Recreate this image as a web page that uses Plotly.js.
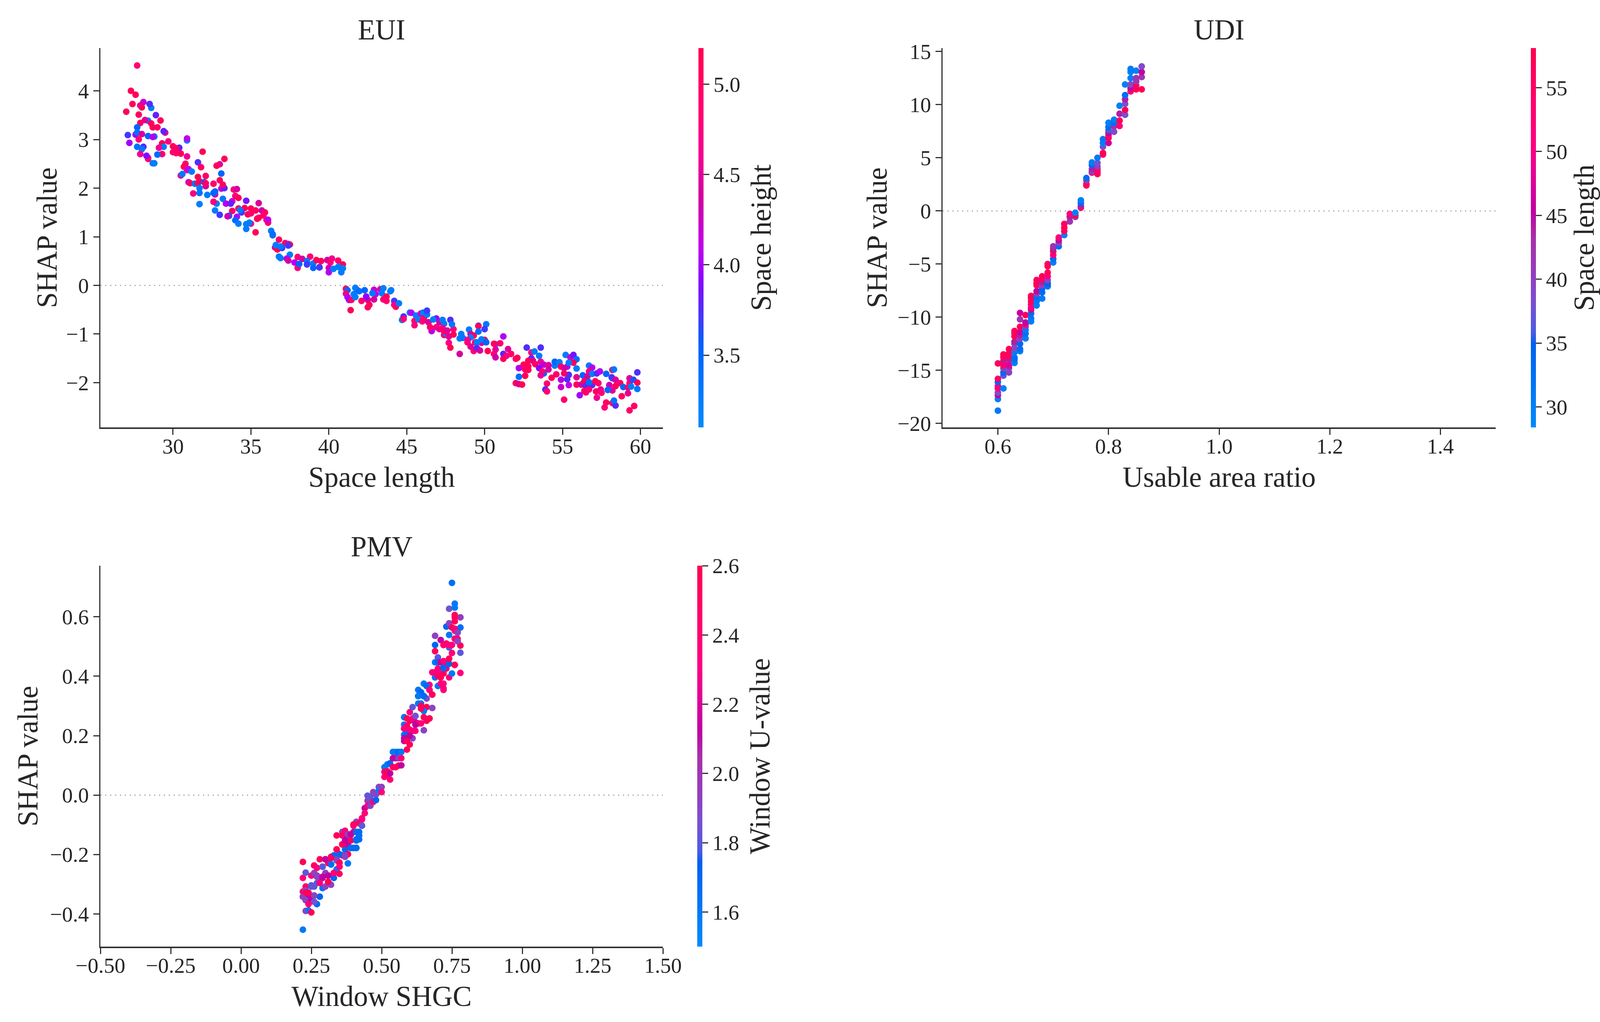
<!DOCTYPE html>
<html><head><meta charset="utf-8">
<script src="https://cdn.plot.ly/plotly-3.0.1.min.js"></script>
<style>html,body{margin:0;padding:0;background:#fff}</style></head>
<body><div id="chart" style="width:4145px;height:2616px"></div>
<script>
// [Space length, SHAP value, Space height]
const euiPoints = [
[27.7,4.52,4.8],[27.3,4.0,5.1],[27.6,3.92,5.1],[27.4,3.73,5.1],[27.0,3.57,5.1],[28.1,3.77,4.2],[27.9,3.70,4.45],[28.0,3.66,5.1],
[28.6,3.65,3.25],[28.5,3.73,3.75],[27.8,3.51,5.1],[28.9,3.50,3.8],[29.2,3.39,5.1],[27.9,3.34,5.1],[28.4,3.385,3.25],[28.2,3.40,4.5],
[28.6,3.33,5.1],[28.7,3.25,5.1],[29.0,3.25,5.1],[27.6,3.10,3.95],[27.7,3.25,3.5],[27.7,3.145,3.35],[27.1,3.09,3.7],[28.0,3.11,4.4],
[28.4,3.07,3.5],[28.8,3.06,3.4],[28.7,3.05,4.05],[29.5,3.14,4.4],[29.4,3.17,3.8],[27.8,3.0,4.8],[27.2,2.93,4.0],[29.7,2.96,4.75],
[29.3,2.92,5.1],[29.4,2.85,3.25],[29.1,2.83,4.6],[28.1,2.85,3.75],[27.7,2.85,3.35],[28.0,2.80,3.3],[30.4,2.83,3.8],[30.0,2.86,5.1],
[30.2,2.82,5.1],[30.0,2.74,5.0],[30.2,2.72,4.9],[30.5,2.71,5.1],[27.9,2.70,4.6],[29.3,2.70,4.8],[29.0,2.69,3.45],[28.4,2.60,5.1],
[28.4,2.62,4.8],[28.3,2.665,3.9],[28.7,2.51,3.25],[28.8,2.51,3.25],[30.9,2.98,3.25],[30.9,3.02,4.1],[31.9,2.75,5.1],[30.9,2.65,4.6],
[33.3,2.60,5.1],[33.0,2.49,4.5],[32.8,2.46,5.1],[30.8,2.50,5.0],[30.7,2.44,5.0],[31.6,2.53,3.75],[31.8,2.43,5.0],[30.9,2.37,4.6],
[31.0,2.39,4.1],[31.2,2.34,3.25],[30.5,2.26,4.5],[30.6,2.29,3.3],[33.1,2.30,3.5],[31.6,2.23,5.1],[32.1,2.25,5.0],[31.0,2.12,4.05],
[31.1,2.10,5.1],[31.4,2.09,3.35],[31.7,2.14,5.1],[31.6,2.10,5.1],[32.0,2.12,3.6],[32.1,2.04,4.4],[32.1,2.10,5.0],[32.6,2.09,4.9],
[33.0,2.16,5.1],[33.1,1.99,4.2],[33.3,2.0,3.8],[33.2,2.07,5.0],[31.7,2.0,3.25],[31.7,1.90,3.35],[31.3,1.89,4.7],[32.2,1.86,3.25],
[32.7,1.87,4.3],[32.6,1.90,3.55],[32.7,1.93,3.5],[33.9,1.97,4.8],[34.1,1.98,4.4],[34.0,1.84,4.9],[34.2,1.80,5.1],[33.2,1.78,3.3],
[32.8,1.68,3.25],[32.6,1.72,4.8],[33.4,1.68,4.05],[33.8,1.73,4.2],[33.7,1.68,3.8],[34.7,1.74,3.85],[35.5,1.69,4.4],[31.7,1.67,3.25],
[32.7,1.54,3.25],[33.8,1.53,5.0],[33.0,1.45,3.7],[33.6,1.43,3.5],[33.5,1.42,4.3],[34.2,1.58,5.1],[34.6,1.59,5.1],[35.0,1.58,5.1],
[35.3,1.54,5.1],[34.8,1.46,5.1],[35.0,1.48,4.9],[34.4,1.50,3.7],[34.3,1.55,3.25],[35.7,1.54,4.3],[35.9,1.50,5.1],[35.8,1.44,4.9],
[34.1,1.41,4.05],[35.4,1.37,5.1],[35.5,1.39,5.1],[36.0,1.35,4.8],[36.1,1.29,5.1],[36.1,1.35,4.1],[34.0,1.34,3.5],[34.2,1.27,3.25],
[35.0,1.27,4.7],[34.7,1.26,3.25],[34.9,1.29,3.25],[34.7,1.16,3.25],[35.3,1.09,5.1],[36.3,1.12,3.25],[36.4,1.05,3.45],[36.4,1.03,3.4],
[36.8,0.94,5.0],[37.2,0.87,4.9],[37.4,0.85,4.4],[37.5,0.84,5.1],[37.4,0.82,3.7],[36.55,0.78,4.4],[36.7,0.74,5.1],[37.0,0.77,3.7],
[36.6,0.83,3.25],[36.9,0.80,3.25],[36.8,0.59,3.25],[36.9,0.56,3.25],[37.5,0.63,3.25],[37.3,0.55,4.05],[37.4,0.51,4.4],[38.0,0.585,4.8],
[38.3,0.545,4.4],[37.8,0.47,4.05],[38.0,0.36,4.8],[38.1,0.44,3.5],[38.8,0.59,4.8],[38.6,0.50,3.3],[38.6,0.43,3.7],[39.0,0.45,3.25],
[39.0,0.36,3.5],[39.2,0.52,5.1],[39.5,0.50,5.1],[39.4,0.375,5.1],[39.4,0.37,3.7],[39.9,0.52,4.4],[40.2,0.55,4.6],[40.1,0.47,4.8],
[40.6,0.51,4.9],[40.9,0.43,5.1],[40.0,0.36,4.3],[40.0,0.27,4.05],[40.3,0.34,3.25],[40.6,0.38,3.25],[40.9,0.35,3.25],[40.8,0.27,3.25],
[41.1,-0.07,5.1],[41.2,-0.10,3.5],[41.1,-0.17,4.8],[41.2,-0.24,4.05],[41.3,-0.30,4.0],[41.45,-0.30,4.9],[41.4,-0.51,5.1],[41.8,-0.09,4.4],
[41.7,-0.05,3.25],[41.6,-0.18,3.25],[41.7,-0.24,3.25],[41.95,-0.12,3.4],[42.1,-0.32,4.9],[42.3,-0.10,3.5],[42.5,-0.30,4.4],[42.4,-0.23,3.95],
[42.6,-0.40,5.1],[42.5,-0.45,5.0],[42.9,-0.09,4.2],[43.0,-0.18,4.05],[42.9,-0.29,4.4],[42.8,-0.16,3.3],[43.3,-0.08,4.4],[43.5,-0.06,3.25],
[43.4,-0.16,3.25],[43.7,-0.23,5.1],[43.5,-0.29,4.8],[43.7,-0.32,4.9],[43.95,-0.12,3.25],[44.0,-0.10,3.25],[44.2,-0.32,3.7],[44.2,-0.40,4.6],
[44.3,-0.44,5.0],[44.5,-0.37,3.25],[44.7,-0.71,3.3],[44.8,-0.64,3.75],[44.8,-0.69,4.8],[45.2,-0.56,3.25],[45.3,-0.565,4.05],[45.5,-0.73,4.8],
[45.5,-0.82,4.8],[45.6,-0.62,3.25],[45.75,-0.70,3.25],[45.9,-0.58,4.3],[46.05,-0.56,3.25],[46.0,-0.74,4.8],[46.1,-0.68,4.9],[46.3,-0.60,3.3],
[46.3,-0.52,3.7],[46.4,-0.76,4.4],[46.6,-0.94,4.05],[46.5,-0.86,5.0],[46.9,-0.68,3.95],[46.7,-0.70,3.25],[46.9,-0.86,4.8],[47.1,-0.90,4.5],
[47.1,-0.76,4.4],[47.3,-0.71,3.25],[47.4,-0.79,3.3],[47.3,-0.88,4.8],[47.4,-1.02,5.1],[47.5,-0.996,3.25],[47.4,-0.95,4.9],[47.6,-0.93,4.5],
[47.7,-1.05,4.5],[48.0,-0.90,4.7],[48.0,-1.01,5.1],[47.8,-0.71,3.75],[47.9,-0.80,3.3],[47.7,-1.18,4.7],[47.8,-1.28,5.1],[48.4,-1.41,4.4],
[48.5,-1.0,3.25],[48.4,-1.09,3.25],[48.6,-1.08,3.3],[49.0,-0.91,3.25],[49.1,-1.0,4.3],[49.3,-1.03,5.1],[49.1,-1.07,3.25],[48.9,-1.17,5.1],
[48.9,-1.12,4.6],[49.6,-0.83,3.4],[49.6,-0.84,5.1],[49.6,-0.95,3.4],[50.1,-0.80,3.3],[50.0,-0.90,3.7],[50.0,-1.12,5.1],[49.4,-1.17,5.1],
[49.8,-1.18,4.4],[49.8,-1.11,3.25],[49.5,-1.17,3.25],[50.1,-1.17,3.5],[49.1,-1.26,4.5],[49.3,-1.35,4.8],[49.5,-1.29,3.75],[49.7,-1.34,4.4],
[50.2,-1.35,5.1],[50.7,-1.21,3.25],[50.6,-1.20,5.0],[51.0,-1.19,4.9],[51.2,-1.05,4.05],[50.7,-1.32,4.5],[50.6,-1.41,4.9],[50.7,-1.48,4.3],
[51.2,-1.41,3.8],[51.2,-1.51,5.1],[51.4,-1.45,4.8],[51.5,-1.31,4.5],[51.7,-1.41,4.9],[52.0,-1.51,4.9],[52.1,-1.49,5.1],[52.2,-1.70,4.05],
[52.7,-1.28,3.75],[53.0,-1.38,4.8],[53.2,-1.36,3.25],[53.6,-1.28,3.75],[53.5,-1.45,3.25],[53.0,-1.50,3.75],[53.1,-1.55,4.4],[52.5,-1.63,5.1],
[52.8,-1.55,5.1],[52.8,-1.66,5.1],[52.6,-1.73,5.1],[52.8,-1.74,5.1],[52.6,-1.86,5.1],[53.25,-1.62,5.1],[53.6,-1.57,4.6],[52.2,-1.88,3.4],
[52.0,-2.01,5.1],[52.2,-2.03,4.4],[52.4,-2.04,5.1],[53.5,-1.70,3.9],[53.8,-1.63,4.2],[54.1,-1.64,4.5],[54.1,-1.73,4.4],[54.5,-1.65,3.25],
[54.5,-1.57,3.5],[54.8,-1.58,3.25],[54.9,-1.67,5.0],[55.3,-1.67,4.05],[55.1,-1.70,4.4],[53.8,-1.81,3.5],[53.7,-1.77,4.8],[53.6,-1.85,4.5],
[54.6,-1.83,5.0],[54.3,-1.90,5.1],[54.0,-2.02,4.9],[53.9,-2.14,3.75],[54.0,-2.18,4.8],[55.2,-1.43,3.25],[55.5,-1.48,4.2],[55.7,-1.43,3.85],
[55.9,-1.52,3.4],[55.7,-1.59,5.1],[55.4,-1.59,3.25],[55.9,-1.71,3.25],[55.4,-1.84,3.75],[55.1,-1.81,5.0],[55.3,-1.93,3.75],[54.9,-1.94,4.05],
[55.9,-1.89,4.5],[56.3,-1.85,3.5],[54.9,-2.09,4.2],[55.4,-2.05,4.1],[55.9,-2.04,5.1],[56.2,-2.04,4.4],[55.1,-2.35,4.9],[56.1,-2.26,4.0],
[56.7,-1.65,3.3],[56.9,-1.69,4.05],[56.7,-1.77,4.8],[56.6,-1.87,4.4],[56.4,-1.97,5.0],[56.5,-2.07,3.75],[56.9,-2.05,3.75],[56.7,-1.99,3.4],
[56.9,-1.82,3.25],[56.4,-2.17,5.1],[56.5,-2.20,5.0],[56.7,-2.14,4.8],[57.1,-1.97,5.1],[57.3,-2.01,5.0],[57.15,-2.18,5.1],[57.45,-2.14,4.5],
[57.5,-2.21,4.9],[57.2,-2.31,4.6],[57.2,-1.81,3.75],[57.4,-1.77,4.05],[57.8,-1.82,3.5],[58.15,-1.89,3.7],[58.2,-1.91,3.7],[58.2,-1.74,5.1],
[58.3,-1.73,3.3],[58.4,-1.94,4.4],[58.0,-2.05,4.3],[58.7,-2.01,5.0],[58.4,-2.07,5.1],[58.2,-2.16,4.5],[57.9,-2.15,3.45],[58.9,-2.09,3.5],
[59.2,-2.10,5.0],[58.8,-2.28,5.0],[59.2,-2.22,4.5],[59.3,-2.01,4.8],[59.4,-2.08,3.25],[59.3,-1.91,4.5],[59.55,-1.94,3.6],[59.8,-2.0,5.1],
[59.8,-2.13,3.3],[59.8,-1.79,3.75],[57.8,-2.41,5.1],[57.7,-2.51,4.8],[58.2,-2.42,4.9],[58.4,-2.47,3.75],[58.3,-2.37,3.35],[59.6,-2.48,5.0],[59.3,-2.57,4.9]
];
// [Usable area ratio, SHAP value, Space length]
const udiPoints = [
[0.60,-18.8,31],[0.60,-17.7,30],[0.60,-17.35,45],[0.60,-17.1,39],[0.60,-16.7,51],[0.60,-16.46,50],[0.60,-16.1,34],[0.60,-15.8,54],[0.60,-14.35,57],
[0.61,-16.7,30],[0.61,-15.5,37],[0.61,-15.2,34],[0.61,-14.8,40],[0.61,-14.6,42],[0.61,-14.3,50],[0.61,-14.1,44],[0.61,-14.5,53],[0.61,-13.76,56],[0.61,-13.5,57],
[0.62,-15.2,40],[0.62,-14.8,39],[0.62,-14.6,44],[0.62,-14.5,48],[0.62,-14.0,44],[0.62,-13.7,56],[0.62,-13.4,56],[0.62,-13.0,57],
[0.63,-14.3,30],[0.63,-14.0,32],[0.63,-13.8,33],[0.63,-13.3,31],[0.63,-12.9,40],[0.63,-12.5,40],[0.63,-12.3,44],[0.63,-11.8,56],[0.63,-11.5,57],[0.63,-11.3,57],
[0.64,-13.2,30],[0.64,-13.0,33],[0.64,-12.5,34],[0.64,-12.0,40],[0.64,-11.7,44],[0.64,-11.4,46],[0.64,-10.9,56],[0.64,-10.2,42],[0.64,-9.6,46],
[0.65,-12.0,30],[0.65,-11.55,33],[0.65,-11.2,31],[0.65,-10.9,36],[0.65,-10.7,50],[0.65,-10.5,45],[0.65,-9.8,57],
[0.66,-10.4,30],[0.66,-10.1,31],[0.66,-9.65,33],[0.66,-9.3,45],[0.66,-9.1,50],[0.66,-8.8,52],[0.66,-8.5,55],[0.66,-8.2,57],[0.66,-8.0,57],
[0.67,-8.9,30],[0.67,-8.5,31],[0.67,-8.1,33],[0.67,-7.8,40],[0.67,-7.55,45],[0.67,-7.0,56],[0.67,-6.8,57],[0.67,-6.5,57],
[0.68,-8.25,31],[0.68,-7.67,33],[0.68,-7.3,34],[0.68,-7.0,40],[0.68,-6.7,44],[0.68,-6.4,56],[0.68,-6.15,57],
[0.69,-7.1,30],[0.69,-7.0,33],[0.69,-6.8,35],[0.69,-6.5,39],[0.69,-6.15,50],[0.69,-5.8,56],[0.69,-5.2,57],[0.69,-5.0,57],
[0.70,-4.85,30],[0.70,-4.5,33],[0.70,-4.15,50],[0.70,-3.8,56],[0.70,-3.55,44],[0.70,-3.33,43],
[0.71,-3.33,33],[0.71,-3.0,40],[0.71,-2.75,45],[0.71,-2.5,52],
[0.72,-2.27,30],[0.72,-1.9,56],[0.72,-1.57,57],[0.72,-1.22,57],
[0.73,-0.99,42],[0.73,-0.56,44],[0.73,-0.28,52],
[0.74,-0.56,42],[0.74,-0.4,57],[0.74,-0.17,30],
[0.75,0.3,54],[0.75,0.47,44],[0.75,0.77,34],[0.75,1.0,30],
[0.76,2.4,56],[0.76,2.53,57],[0.76,2.88,42],[0.76,3.1,33],
[0.77,3.6,57],[0.77,3.7,40],[0.77,3.94,44],[0.77,4.3,34],[0.77,4.57,30],
[0.78,3.47,57],[0.78,3.7,55],[0.78,3.94,53],[0.78,4.2,40],[0.78,4.52,38],[0.78,5.0,31],
[0.79,5.3,53],[0.79,5.46,57],[0.79,6.05,38],[0.79,6.4,30],[0.79,6.75,31],
[0.80,6.4,46],[0.80,6.87,57],[0.80,7.1,52],[0.80,7.34,45],[0.80,7.6,36],[0.80,7.9,33],[0.80,8.3,30],
[0.81,7.45,39],[0.81,7.97,43],[0.81,8.3,33],[0.81,8.58,30],
[0.82,8.0,52],[0.82,8.5,57],[0.82,9.14,44],[0.82,9.9,30],
[0.83,9.05,38],[0.83,9.5,57],[0.83,10.08,38],[0.83,10.5,44],[0.83,10.9,33],[0.83,11.9,30],
[0.84,11.25,54],[0.84,11.56,45],[0.84,11.9,39],[0.84,12.5,30],[0.84,13.08,30],[0.84,13.36,31],
[0.85,11.44,56],[0.85,11.8,56],[0.85,12.2,42],[0.85,12.5,42],[0.85,13.2,30],
[0.86,11.44,57],[0.86,12.6,42],[0.86,13.08,45],[0.86,13.6,39]
];
// [Window SHGC, SHAP value, Window U-value]
const pmvPoints = [
[0.22,-0.225,2.55],[0.22,-0.279,2.36],[0.22,-0.325,2.5],[0.22,-0.342,1.92],[0.22,-0.453,1.6],[0.23,-0.261,1.81],[0.23,-0.308,2.5],[0.23,-0.321,1.92],
[0.23,-0.346,2.13],[0.23,-0.390,1.92],[0.24,-0.329,2.55],[0.24,-0.359,2.13],[0.24,-0.363,2.36],[0.24,-0.388,1.62],[0.25,-0.271,2.36],[0.25,-0.308,1.81],
[0.25,-0.342,2.13],[0.25,-0.395,2.55],[0.26,-0.237,2.5],[0.26,-0.262,1.92],[0.26,-0.308,1.81],[0.26,-0.338,2.13],[0.26,-0.359,1.92],[0.27,-0.245,2.36],
[0.27,-0.275,1.92],[0.27,-0.367,1.68],[0.28,-0.216,2.5],[0.28,-0.283,2.0],[0.28,-0.342,1.72],[0.29,-0.241,1.81],[0.29,-0.279,2.13],[0.29,-0.313,1.65],
[0.30,-0.216,2.36],[0.30,-0.262,1.92],[0.30,-0.308,1.92],[0.31,-0.229,2.55],[0.31,-0.271,2.13],[0.31,-0.292,2.5],[0.32,-0.208,2.5],[0.32,-0.234,1.65],
[0.32,-0.302,1.92],[0.33,-0.203,1.7],[0.33,-0.262,2.13],[0.33,-0.279,1.7],[0.34,-0.136,2.55],[0.34,-0.183,2.5],[0.34,-0.216,1.92],[0.34,-0.250,1.62],
[0.35,-0.199,1.7],[0.35,-0.227,2.55],[0.35,-0.241,2.36],[0.35,-0.265,2.5],[0.36,-0.124,1.92],[0.36,-0.136,2.5],[0.36,-0.166,2.55],[0.36,-0.203,2.13],
[0.37,-0.120,2.36],[0.37,-0.153,1.92],[0.37,-0.183,1.7],[0.37,-0.208,1.92],[0.38,-0.141,2.13],[0.38,-0.166,2.13],[0.38,-0.199,2.5],[0.38,-0.230,1.6],
[0.39,-0.135,1.92],[0.39,-0.153,2.5],[0.39,-0.178,1.7],[0.40,-0.099,2.55],[0.40,-0.124,2.13],[0.40,-0.178,1.7],[0.41,-0.090,1.92],[0.41,-0.124,1.7],
[0.41,-0.149,1.7],[0.41,-0.178,1.7],[0.42,-0.095,2.5],[0.42,-0.124,1.68],[0.42,-0.149,1.68],[0.43,-0.078,2.5],[0.43,-0.103,1.81],[0.44,-0.044,2.13],
[0.44,-0.061,2.36],[0.45,-0.002,1.81],[0.45,-0.019,1.92],[0.45,-0.036,2.36],[0.46,-0.006,1.81],[0.46,-0.036,1.92],[0.47,0.010,1.92],[0.47,-0.023,2.36],
[0.48,0.002,1.92],[0.48,-0.017,1.7],[0.49,0.027,1.92],[0.49,0.015,1.6],[0.50,0.027,1.92],[0.50,0.010,2.36],[0.51,0.094,1.6],[0.51,0.078,2.55],
[0.51,0.061,2.36],[0.52,0.103,1.6],[0.52,0.080,2.5],[0.52,0.067,2.55],[0.53,0.107,1.7],[0.53,0.073,2.13],[0.53,0.052,2.36],[0.54,0.145,1.6],
[0.54,0.124,2.13],[0.54,0.094,2.5],[0.55,0.145,1.6],[0.55,0.124,2.13],[0.55,0.094,2.5],[0.56,0.145,1.7],[0.56,0.124,1.92],[0.56,0.099,2.5],
[0.57,0.145,1.6],[0.57,0.124,2.36],[0.57,0.100,2.13],[0.58,0.262,1.6],[0.58,0.237,1.6],[0.58,0.224,2.36],[0.58,0.203,1.6],[0.58,0.182,2.13],
[0.59,0.258,2.55],[0.59,0.208,1.7],[0.59,0.187,2.55],[0.59,0.153,2.55],[0.60,0.279,2.36],[0.60,0.250,2.55],[0.60,0.199,1.6],[0.60,0.170,2.55],
[0.61,0.296,1.81],[0.61,0.216,2.36],[0.61,0.191,1.92],[0.62,0.266,1.81],[0.62,0.245,2.13],[0.62,0.216,2.36],[0.63,0.354,1.6],[0.63,0.333,1.6],
[0.63,0.308,1.6],[0.63,0.241,2.55],[0.64,0.346,1.7],[0.64,0.308,1.65],[0.64,0.300,2.55],[0.64,0.241,2.36],[0.65,0.375,1.6],[0.65,0.333,1.7],
[0.65,0.283,1.6],[0.65,0.218,1.92],[0.66,0.367,1.7],[0.66,0.325,1.9],[0.66,0.296,2.55],[0.66,0.250,2.55],[0.67,0.371,2.36],[0.67,0.354,2.13],
[0.67,0.258,2.55],[0.68,0.338,2.55],[0.68,0.293,1.92],[0.69,0.536,1.92],[0.69,0.505,1.7],[0.69,0.484,2.55],[0.69,0.447,1.6],[0.69,0.413,2.13],
[0.69,0.396,1.65],[0.70,0.463,1.81],[0.70,0.447,1.7],[0.70,0.417,2.36],[0.70,0.401,2.5],[0.70,0.367,1.6],[0.71,0.522,2.13],[0.71,0.447,2.13],
[0.71,0.396,2.55],[0.71,0.375,2.36],[0.72,0.505,2.36],[0.72,0.430,1.7],[0.72,0.409,2.55],[0.72,0.354,2.36],[0.73,0.567,1.7],[0.73,0.510,2.55],
[0.73,0.442,2.36],[0.73,0.426,2.5],[0.74,0.627,1.85],[0.74,0.578,1.92],[0.74,0.539,1.6],[0.74,0.497,1.81],[0.74,0.442,1.7],[0.74,0.396,2.36],
[0.75,0.714,1.66],[0.75,0.564,2.55],[0.75,0.505,2.36],[0.75,0.478,2.36],[0.75,0.409,1.6],[0.76,0.644,1.6],[0.76,0.631,1.6],[0.76,0.606,2.55],
[0.76,0.585,2.55],[0.76,0.553,2.36],[0.76,0.526,2.36],[0.76,0.438,2.55],[0.77,0.551,2.36],[0.77,0.547,1.92],[0.77,0.518,1.92],[0.77,0.526,2.5],
[0.78,0.598,1.95],[0.78,0.564,1.65],[0.78,0.503,2.55],[0.78,0.479,1.81],[0.78,0.411,2.36],
[0.22,-0.342,1.92],[0.23,-0.329,2.5],[0.23,-0.354,1.92],[0.24,-0.329,2.55],[0.25,-0.304,1.81],[0.25,-0.353,2.13],[0.26,-0.338,1.92],[0.26,-0.359,1.85],
[0.24,-0.367,2.36],[0.27,-0.271,1.92],[0.27,-0.296,1.81],[0.28,-0.296,2.36],[0.29,-0.275,2.13],[0.29,-0.241,1.81],[0.30,-0.216,2.13],[0.31,-0.292,2.55],
[0.31,-0.271,2.13],[0.32,-0.233,1.66],[0.33,-0.262,2.36],[0.34,-0.220,1.92],[0.35,-0.229,2.55],[0.35,-0.241,2.36],[0.32,-0.212,2.5],[0.35,-0.199,1.7],
[0.36,-0.166,2.55],[0.34,-0.183,2.55],[0.37,-0.153,2.13],[0.38,-0.132,1.92],[0.39,-0.132,2.13],[0.38,-0.199,2.55],[0.37,-0.203,1.92],[0.39,-0.178,1.68],
[0.41,-0.124,1.68],[0.42,-0.136,1.68],[0.41,-0.153,1.68],[0.41,-0.178,1.68],[0.40,-0.178,1.68],[0.40,-0.099,2.55],[0.43,-0.103,1.81],[0.40,-0.103,2.5],[0.43,-0.082,2.36],
[0.58,0.191,2.13],[0.59,0.233,2.5],[0.61,0.258,2.36],[0.62,0.266,1.85],[0.63,0.241,2.36],[0.65,0.283,1.6],[0.65,0.262,2.55],[0.64,0.291,2.55],[0.66,0.254,2.55],
[0.67,0.258,2.55],[0.60,0.220,2.36],[0.61,0.216,2.36],[0.58,0.224,2.36],[0.59,0.182,2.55],[0.60,0.199,2.13],[0.62,0.237,2.13],
[0.63,0.333,1.6],[0.65,0.333,1.68],[0.66,0.367,1.68],[0.67,0.354,2.36],[0.68,0.338,2.55],[0.68,0.413,2.36],[0.69,0.413,2.36],[0.70,0.426,2.36],[0.71,0.396,2.55],
[0.72,0.375,2.36],[0.72,0.359,2.36],[0.72,0.451,2.36],[0.72,0.427,1.7],[0.74,0.442,1.7],[0.74,0.459,2.55],[0.76,0.438,2.55],[0.72,0.505,2.36],[0.74,0.505,2.36],
[0.76,0.526,2.36],[0.76,0.560,2.36],[0.76,0.598,2.55],[0.77,0.518,1.92],[0.77,0.547,1.92]
];

const shapRedBlueVivid = [[0,'#008bfb'],[0.22,'#0060ff'],[0.28,'#3c3cff'],[0.40,'#9000ff'],[0.47,'#c000f0'],[0.60,'#d000a0'],[0.72,'#f40090'],[0.82,'#ff0075'],[1,'#ff0051']];
const shapRedBlueSoft = [[0,'#008bfb'],[0.22,'#0060f0'],[0.25,'#4a5ce0'],[0.33,'#7a50d0'],[0.39,'#9040c0'],[0.50,'#a830a8'],[0.57,'#c000a0'],[0.65,'#e00098'],[0.75,'#ff0080'],[1,'#ff0051']];

const W = 4145, H = 2616;
const serif = '"Liberation Serif", "Times New Roman", serif';
const ink = '#262626';
const fx = p => p / W, fy = p => 1 - p / H;
const axisBase = {
  showgrid:false, zeroline:false, showline:true, linecolor:'#333333', linewidth:3.5,
  ticks:'outside', ticklen:15, tickwidth:3, tickcolor:'#333333',
  tickfont:{family:serif,size:55,color:ink}, automargin:false
};
function xAxis(name, l, r, range, dtick, title, tickformat, standoff){
  return Object.assign({}, axisBase, {domain:[fx(l),fx(r)], range, dtick, tick0:0, tickformat, ticklabelstandoff:-18,
    anchor:name, title:{text:title, standoff, font:{family:serif,size:73,color:ink}}});
}
function yAxis(name, t, b, range, dtick, tickformat, standoff){
  return Object.assign({}, axisBase, {domain:[fy(b),fy(t)], range, dtick, tick0:0, tickformat,
    anchor:name, title:{text:'SHAP value', standoff, font:{family:serif,size:73,color:ink}}});
}
function colorAxis(cmin, cmax, scale, dtick, tickformat, title, x, t, b, suffix){
  return {cmin, cmax, colorscale:scale, colorbar:{
    title:{text:title, side:'right', font:{family:serif,size:73,color:ink}},
    thickness:12.5, thicknessmode:'pixels', len:(b-t)/H, lenmode:'fraction', y:fy(b), yanchor:'bottom',
    x:fx(x), xanchor:'left', xpad:0, ypad:0, outlinewidth:0, tick0:0, dtick, tickformat, ticksuffix:suffix,
    ticks:'outside', ticklen:15, tickwidth:3, tickcolor:'#333333',
    tickfont:{family:serif,size:55,color:ink}
  }};
}
function scatter(points, xa, ya, coloraxis){
  return {type:'scatter', mode:'markers', xaxis:xa, yaxis:ya, hoverinfo:'skip', showlegend:false,
    x:points.map(p=>p[0]), y:points.map(p=>p[1]),
    marker:{size:17, color:points.map(p=>p[2]), coloraxis, line:{width:0}}};
}
function zeroRule(xa, ya){
  return {type:'line', layer:'below', xref:xa+' domain', yref:ya, x0:0, x1:1, y0:0, y1:0,
    line:{color:'#9a9a9a', width:2.5, dash:'3px,9.5px'}};
}
function panelTitle(text, xa, ya, shift){
  return {text, xref:xa+' domain', yref:ya+' domain', x:0.5, y:1, yanchor:'middle', xanchor:'center',
    yshift:shift, showarrow:false, font:{family:serif,size:73,color:ink}};
}

const layout = {
  width:W, height:H, margin:{l:0,r:0,t:0,b:0}, paper_bgcolor:'#fff', plot_bgcolor:'#fff', showlegend:false,
  xaxis: xAxis('y', 257, 1697, [25.34,61.44], 5, 'Space length', 'd', 24),
  yaxis: yAxis('x', 123, 1094, [-2.92,4.88], 1, 'd', 0),
  xaxis2: xAxis('y2', 2413, 3829, [0.5,1.5], 0.2, 'Usable area ratio', '.1f', 24),
  yaxis2: yAxis('x2', 123, 1094, [-20.37,15.33], 5, 'd', 4),
  xaxis3: xAxis('y3', 257, 1697, [-0.5,1.5], 0.25, 'Window SHGC', '.2f', 24),
  yaxis3: yAxis('x3', 1448, 2423, [-0.51,0.772], 0.2, '.1f', 8),
  coloraxis: colorAxis(3.1, 5.2, shapRedBlueVivid, 0.5, '.1f', 'Space height', 1788, 123, 1094, '\u2009'),
  coloraxis2: colorAxis(28.4, 58.1, shapRedBlueSoft, 5, 'd', 'Space length', 3919, 123, 1094, ''),
  coloraxis3: colorAxis(1.5, 2.6, shapRedBlueSoft, 0.2, '.1f', 'Window U-value', 1785, 1448, 2423, '\u2009'),
  shapes:[zeroRule('x','y'), zeroRule('x2','y2'), zeroRule('x3','y3')],
  annotations:[panelTitle('EUI','x','y',47), panelTitle('UDI','x2','y2',47), panelTitle('PMV','x3','y3',49)]
};

Plotly.newPlot('chart', [
  scatter(euiPoints,'x','y','coloraxis'),
  scatter(udiPoints,'x2','y2','coloraxis2'),
  scatter(pmvPoints,'x3','y3','coloraxis3')
], layout, {displayModeBar:false, staticPlot:true});
</script></body></html>
